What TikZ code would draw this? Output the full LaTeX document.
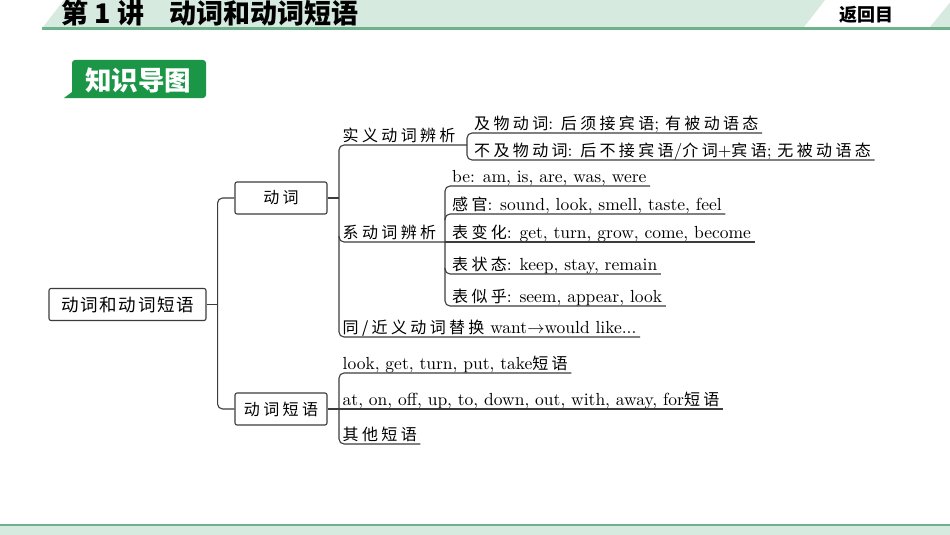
\documentclass[tikz,border=0pt]{standalone}
\usepackage{fontspec}
\setmainfont{lmroman10-regular.otf}
\newfontfamily\zhf[LetterSpace=21]{Noto Sans CJK SC}
\newfontfamily\zhr[LetterSpace=10]{Noto Sans CJK SC}
\newfontfamily\zhh{Noto Sans CJK SC}
\newcommand\zh{\zhf\fontsize{16}{18}\selectfont}
\definecolor{hdr}{RGB}{214,234,224}
\definecolor{hdrline}{RGB}{110,178,140}
\definecolor{badge}{RGB}{27,150,70}
\definecolor{ln}{RGB}{60,60,60}
\tikzset{
  conn/.style={draw=ln, line width=1.1pt, rounded corners=5pt},
  box/.style={draw=ln, line width=1.1pt, rounded corners=2pt, fill=white, minimum height=32pt, inner sep=0pt, font=\fontsize{16}{18}\selectfont},
  lab/.style={anchor=south west, inner xsep=3.5pt, inner ysep=3.5pt, text depth=0pt, text height=11pt, font=\fontsize{17.5}{19}\selectfont},
  labb/.style={lab, execute at begin node={\hspace*{3.5pt}}},
}
\begin{document}
\begin{tikzpicture}[x=1pt,y=-1pt]
\useasboundingbox (0,0) rectangle (950,535);
\fill[white] (0,0) rectangle (950,535);
% header
\fill[hdr] (43,27) -- (64,0) -- (825,0) -- (804,27) -- cycle;
\fill[hdr] (930,27) -- (950,2.5) -- (950,27) -- cycle;
\draw[hdrline, line width=2.5pt] (42,28.5) -- (950,28.5);
\node[anchor=west, inner sep=0pt, font=\zhh\bfseries\fontsize{27}{30}\selectfont] (title) at (61,13) {第 1 讲\hspace{26pt}动词和动词短语};
\node[inner sep=0pt, font=\zhh\bfseries\fontsize{18}{20}\selectfont] (back) at (866,15) {返回目};
% footer
\draw[hdrline, line width=2pt] (0,524.5) -- (950,524.5);
\fill[hdr] (0,525.5) rectangle (950,535);
% badge
\fill[badge] (64,98) -- (72,92) [rounded corners=3pt] -- (72,60) -- (206,60) -- (206,98) [sharp corners] -- cycle;
\node[text=white, inner sep=0pt, font=\zhh\bfseries\fontsize{26.5}{29}\selectfont] (badgetxt) at (138,80) {知识导图};
% boxes
\node[box, minimum width=157pt, font=\zhr\fontsize{17.5}{20}\selectfont] (root) at (127.5,304.5) {动词和动词短语};
\node[box, minimum width=92pt] (dc) at (281,198) {\zh 动词};
\node[box, minimum width=92pt] (dy) at (281,409) {\zh 动词短语};
% labels
\node[lab] (sy) at (339,145) {\zh 实义动词辨析};
\node[labb] (jw) at (467,133) {{\zh 及物动词}: {\zh 后须接宾语}; {\zh 有被动语态}};
\node[labb] (bj) at (467,160) {{\zh 不及物动词}: {\zh 后不接宾语}/{\zh 介词}+{\zh 宾语}; {\zh 无被动语态}};
\node[lab] (xd) at (339,242) {\zh 系动词辨析};
\node[labb] (be) at (445,186) {be: am, is, are, was, were};
\node[labb] (gg) at (445,214) {{\zh 感官}: sound, look, smell, taste, feel};
\node[labb] (bb) at (445,242) {{\zh 表变化}: get, turn, grow, come, become};
\node[labb] (bz) at (445,274) {{\zh 表状态}: keep, stay, remain};
\node[labb] (bs) at (445,306) {{\zh 表似乎}: seem, appear, look};
\node[lab] (tj) at (339,337) {{\zh 同/近义动词替换} want$\to$would like...};
\node[lab] (lk) at (339,373) {look, get, turn, put, take{\zh 短语}};
\node[lab] (at) at (339,409) {at, on, off, up, to, down, out, with, away, for{\zh 短语}};
\node[lab] (qt) at (339,444) {\zh 其他短语};
% root connectors
\draw[conn] (root.east) -- ++(11,0) coordinate (rj);
\draw[conn] (dc.west) -| (rj) |- (dy.west);
% dongci
\draw[conn] (dc.east) -- (dc.east -| sy.south west);
\draw[conn] (jw.south west |- sy.south) -- (sy.south west) -- (tj.south west) -- (tj.south east);
\draw[conn] ([yshift=6pt]xd.south west) -- (xd.south west) -- (be.south west |- xd.south);
\draw[conn] (jw.south east) -- (jw.south west) -- (bj.south west) -- (bj.south east);
\draw[conn] (be.south east) -- (be.south west) -- (bs.south west) -- (bs.south east);
\draw[conn] ([yshift=-6pt]gg.south west) -- (gg.south west) -- (gg.south east);
\draw[conn] (bb.south west) -- (bb.south east);
\draw[conn] ([yshift=6pt]bz.south west) -- (bz.south west) -- (bz.south east);
% duanyu
\draw[conn] (dy.east) -- (dy.east -| at.south west);
\draw[conn] (lk.south east) -- (lk.south west) -- (qt.south west) -- (qt.south east);
\draw[conn] (at.south west) -- (at.south east);
\end{tikzpicture}
\end{document}
